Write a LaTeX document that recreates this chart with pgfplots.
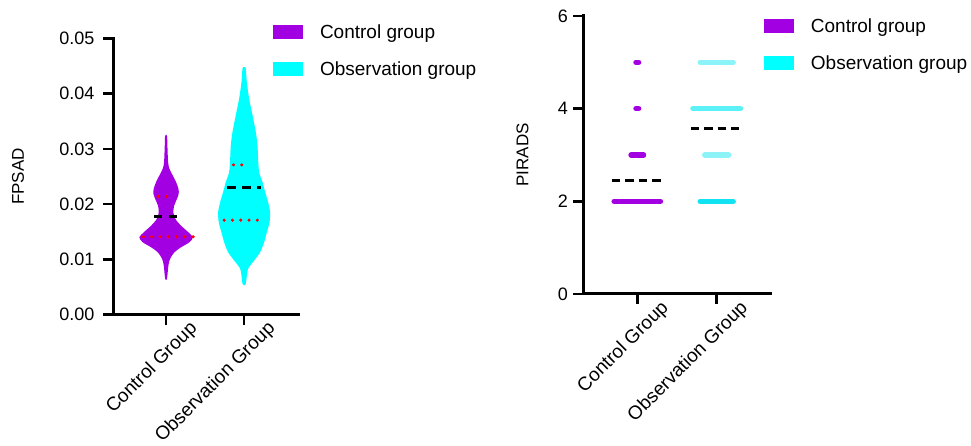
\documentclass[border=0pt]{standalone}
\usepackage{fontspec}
\setmainfont{Liberation Sans}
\usepackage{pgfplots}
\pgfplotsset{compat=1.18}
\definecolor{ctrl}{RGB}{162,0,226}
\definecolor{obs}{RGB}{0,255,255}
\definecolor{obsA}{RGB}{138,244,248}
\definecolor{obsB}{RGB}{91,241,246}
\definecolor{obsC}{RGB}{142,243,247}
\definecolor{obsD}{RGB}{18,227,242}
\pgfplotsset{
  gp/.style={
    scale only axis, anchor=south west, clip=false,
    axis x line*=bottom, axis y line*=left,
    axis line style={line width=3pt, line cap=rect, -},
    tick style={line width=2.7pt, black},
    major tick length=10pt, tick align=outside,
    xtick={1,2}, xticklabels={Control Group, Observation Group},
    xticklabel style={xshift=22pt, yshift=10pt, rotate=45, anchor=north east, font=\fontsize{19}{22}\selectfont},
    yticklabel style={font=\fontsize{18}{21}\selectfont, xshift=-5pt},
    /pgf/number format/assume math mode=true,
    ylabel style={font=\fontsize{17}{20}\selectfont, anchor=center},
    legend image code/.code={\fill[##1, draw=none] (0pt,-7pt) rectangle (30pt,7pt); \path[fill=none, draw=none] (0pt,-18.5pt) rectangle (47pt,18.5pt);},
    legend cell align=left,
    legend style={draw=none, fill=none, font=\fontsize{19}{22}\selectfont,
      anchor=north west, row sep=0pt, inner sep=0pt, outer sep=0pt, nodes={inner sep=0pt}},
  }
}
\begin{document}
\begin{tikzpicture}
\useasboundingbox (0,0) rectangle (971pt,446pt);
% ---------------- left: FPSAD violin ----------------
\begin{axis}[gp, at={(113pt,131.3pt)}, width=185pt, height=276.4pt,
  xmin=0.32, xmax=2.69, ymin=0, ymax=0.05,
  ytick={0,0.01,0.02,0.03,0.04,0.05}, scaled y ticks=false,
  yticklabel style={/pgf/number format/fixed, /pgf/number format/fixed zerofill, /pgf/number format/precision=2},
  ylabel={FPSAD}, ylabel style={at={(axis description cs:-0.514,0.5)}},
  legend style={at={(rel axis cs:0.865,1.0897)}}]
\addplot[forget plot, fill=ctrl, draw=none, smooth, tension=0.5] coordinates {
(1.000,0.0063) (1.013,0.0066) (1.030,0.0089) (1.051,0.0101) (1.107,0.0113) (1.192,0.0122)
(1.299,0.0131) (1.342,0.0140) (1.278,0.0150) (1.192,0.0161) (1.120,0.0173) (1.094,0.0185)
(1.103,0.0197) (1.141,0.0210) (1.162,0.0219) (1.158,0.0228) (1.128,0.0240) (1.085,0.0252)
(1.043,0.0264) (1.026,0.0276) (1.017,0.0306) (1.013,0.0323) (1.000,0.0326)
(0.987,0.0323) (0.983,0.0306) (0.974,0.0276) (0.957,0.0264) (0.915,0.0252) (0.872,0.0240)
(0.842,0.0228) (0.838,0.0219) (0.859,0.0210) (0.897,0.0197) (0.906,0.0185) (0.880,0.0173)
(0.808,0.0161) (0.722,0.0150) (0.658,0.0140) (0.701,0.0131) (0.808,0.0122) (0.893,0.0113)
(0.949,0.0101) (0.970,0.0089) (0.987,0.0066) (1.000,0.0063)} -- cycle;
\addplot[forget plot, fill=obs, draw=none, smooth, tension=0.5] coordinates {
(2.000,0.0053) (2.021,0.0056) (2.030,0.0065) (2.051,0.0083) (2.128,0.0098) (2.205,0.0113)
(2.256,0.0131) (2.291,0.0149) (2.325,0.0167) (2.333,0.0185) (2.308,0.0203) (2.269,0.0222)
(2.235,0.0240) (2.192,0.0258) (2.179,0.0282) (2.171,0.0306) (2.150,0.0330) (2.107,0.0361)
(2.064,0.0391) (2.034,0.0421) (2.021,0.0445) (2.000,0.0448)
(1.979,0.0445) (1.966,0.0421) (1.936,0.0391) (1.893,0.0361) (1.850,0.0330) (1.829,0.0306)
(1.821,0.0282) (1.808,0.0258) (1.765,0.0240) (1.731,0.0222) (1.692,0.0203) (1.667,0.0185)
(1.675,0.0167) (1.709,0.0149) (1.744,0.0131) (1.795,0.0113) (1.872,0.0098) (1.949,0.0083)
(1.970,0.0065) (1.979,0.0056) (2.000,0.0053)} -- cycle;
% medians
\addplot[forget plot, black, line width=3.2pt, dash pattern=on 8pt off 6.7pt] coordinates {(0.846,0.0177) (1.137,0.0177)};
\addplot[forget plot, black, line width=3.2pt, dash pattern=on 8.4pt off 6.6pt] coordinates {(1.786,0.0230) (2.214,0.0230)};
% quartiles
\addplot[forget plot, red, line width=3.4pt, line cap=round, dash pattern=on 0pt off 8.3pt] coordinates {(0.900,0.0214) (1.110,0.0214)};
\addplot[forget plot, red, line width=3.4pt, line cap=round, dash pattern=on 0pt off 8.3pt] coordinates {(0.709,0.0141) (1.355,0.0141)};
\addplot[forget plot, red, line width=3.4pt, line cap=round, dash pattern=on 0pt off 8.3pt] coordinates {(1.863,0.0271) (2.070,0.0271)};
\addplot[forget plot, red, line width=3.4pt, line cap=round, dash pattern=on 0pt off 8.3pt] coordinates {(1.744,0.0171) (2.170,0.0171)};
\addlegendimage{fill=ctrl}
\addlegendentry{Control group}
\addlegendimage{fill=obs}
\addlegendentry{Observation group}
\end{axis}
% ---------------- right: PIRADS ----------------
\begin{axis}[gp, at={(583.3pt,152pt)}, width=187.4pt, height=278pt,
  xmin=0.32, xmax=2.68, ymin=0, ymax=6, ytick={0,2,4,6},
  yticklabel style={xshift=3pt},
  ylabel={PIRADS}, ylabel style={at={(axis description cs:-0.324,0.5)}},
  legend style={at={(rel axis cs:0.964,1.0288)}}]
\addplot[forget plot, ctrl, line width=5.5pt, line cap=round] coordinates {(0.984,5) (1.016,5)};
\addplot[forget plot, ctrl, line width=5.5pt, line cap=round] coordinates {(0.984,4) (1.016,4)};
\addplot[forget plot, ctrl, line width=5.5pt, line cap=round] coordinates {(0.922,3) (1.078,3)};
\addplot[forget plot, ctrl, line width=5.5pt, line cap=round] coordinates {(0.709,2) (1.291,2)};
\addplot[forget plot, obsA, line width=5.5pt, line cap=round] coordinates {(1.793,5) (2.207,5)};
\addplot[forget plot, obsB, line width=5.5pt, line cap=round] coordinates {(1.701,4) (2.299,4)};
\addplot[forget plot, obsC, line width=5.5pt, line cap=round] coordinates {(1.850,3) (2.150,3)};
\addplot[forget plot, obsD, line width=5.5pt, line cap=round] coordinates {(1.793,2) (2.207,2)};
\addplot[forget plot, black, line width=3.3pt, dash pattern=on 8.3pt off 5.2pt] coordinates {(0.678,2.454) (1.295,2.454)};
\addplot[forget plot, black, line width=3.3pt, dash pattern=on 8.3pt off 5.2pt] coordinates {(1.673,3.576) (2.285,3.576)};
\addlegendimage{fill=ctrl}
\addlegendentry{Control group}
\addlegendimage{fill=obs}
\addlegendentry{Observation group}
\end{axis}
\end{tikzpicture}
\end{document}
